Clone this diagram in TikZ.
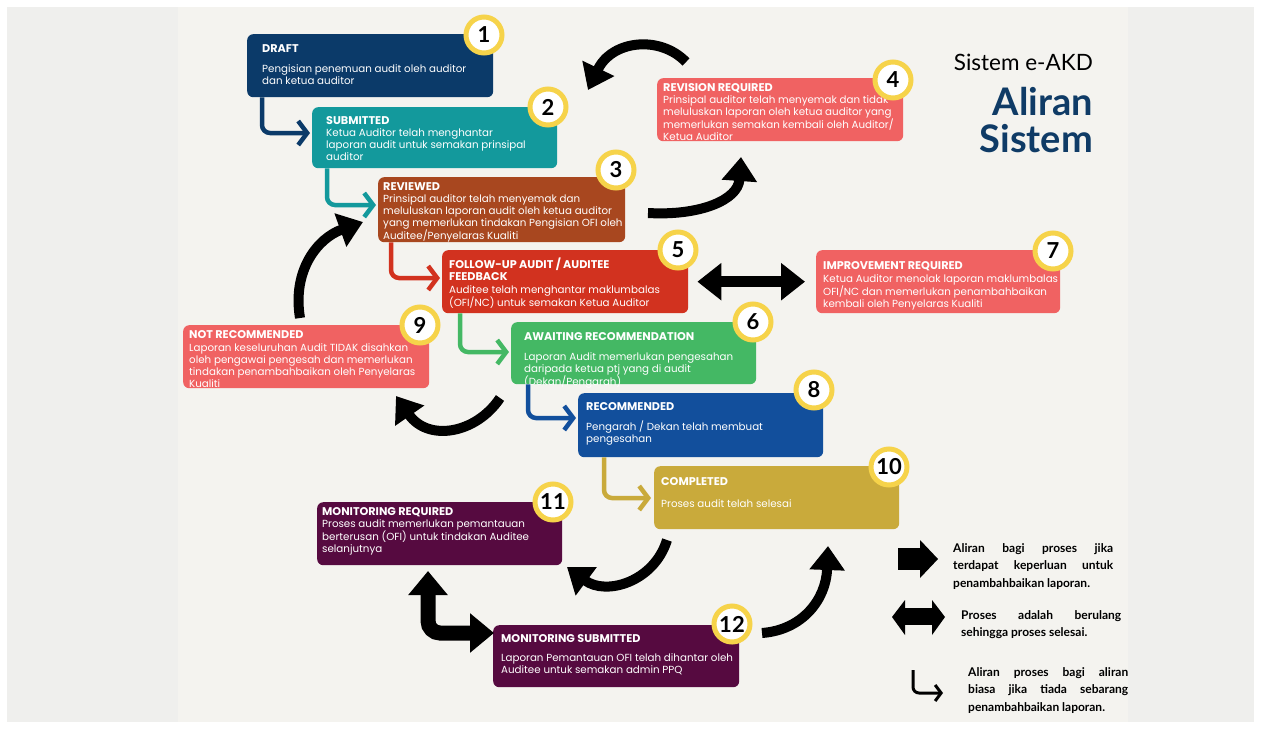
\documentclass[tikz,border=0pt]{standalone}
\usepackage{fontspec}
\setmainfont{Lato}
\newfontfamily\cardfont{Poppins}
\usetikzlibrary{arrows.meta,calc}
\definecolor{cnavy}{HTML}{0B3A69}
\definecolor{cteal}{HTML}{13999C}
\definecolor{cbrown}{HTML}{A8471F}
\definecolor{csalmon}{HTML}{F06262}
\definecolor{cred}{HTML}{D2321F}
\definecolor{cgreen}{HTML}{44B864}
\definecolor{cblue}{HTML}{124F9C}
\definecolor{cgold}{HTML}{C9AA3B}
\definecolor{cplum}{HTML}{560A40}
\definecolor{cyel}{HTML}{F6D34A}
\definecolor{ctitle}{HTML}{0F3B66}
\definecolor{bgout}{HTML}{EFEFED}
\definecolor{bgin}{HTML}{F4F3EF}
\newcommand\cardtxt[1]{\parbox[t]{260pt}{\raggedright\cardfont\fontsize{10.3}{12}\selectfont #1}}
\newcommand\ttl[1]{{\fontsize{11.2}{12}\selectfont\bfseries #1}}
\newcommand\legtxt[2]{\parbox[t]{#1}{\raggedright\fontsize{12}{17.5}\selectfont\bfseries #2}}
\begin{document}
\begin{tikzpicture}[x=1pt,y=-1pt,
  card/.style={rounded corners=6pt, inner sep=0pt, anchor=north west},
  ctext/.style={anchor=base west, inner sep=0pt, text=white},
  badge/.style={circle, draw=cyel, fill=white, line width=5pt, minimum size=36pt, inner sep=0pt, font=\fontsize{22}{22}\selectfont\bfseries},
  elbow/.style={line width=4.5pt, rounded corners=8pt, -{Straight Barb[length=9pt,width=24pt]}},
  bigarrow/.style={line width=10pt, -{Triangle[length=24pt,width=34pt]}},
  dblarrow/.style={line width=11pt, {Triangle[length=24pt,width=36pt]}-{Triangle[length=24pt,width=36pt]}},
  legtext/.style={anchor=base west, inner sep=0pt},
]
% background
\useasboundingbox (0,0) rectangle (1261,729);
\fill[white] (0,0) rectangle (1261,729);
\fill[bgout] (7,7) rectangle (1254,722);
\fill[bgin] (178,7) rectangle (1128,722);

% cards
\node[card, fill=cnavy, minimum width=246pt, minimum height=63pt] (b1) at (247,34) {};
\node[card, fill=cteal, minimum width=245pt, minimum height=61pt] (b2) at (312,107) {};
\node[card, fill=cbrown, minimum width=247pt, minimum height=65pt] (b3) at (378,177) {};
\node[card, fill=csalmon, minimum width=246pt, minimum height=63pt] (b4) at (657,78) {};
\node[card, fill=cred, minimum width=246pt, minimum height=63pt] (b5) at (442,250) {};
\node[card, fill=cgreen, minimum width=245pt, minimum height=62pt] (b6) at (511,322) {};
\node[card, fill=csalmon, minimum width=244pt, minimum height=63pt] (b7) at (816,250) {};
\node[card, fill=cblue, minimum width=245pt, minimum height=64pt] (b8) at (578,393) {};
\node[card, fill=csalmon, minimum width=246pt, minimum height=63pt] (b9) at (183,325) {};
\node[card, fill=cgold, minimum width=245pt, minimum height=63pt] (b10) at (654,466) {};
\node[card, fill=cplum, minimum width=245pt, minimum height=63pt] (b11) at (317,502) {};
\node[card, fill=cplum, minimum width=246pt, minimum height=62pt] (b12) at (493,625) {};

% card texts
\node[ctext] (t1) at (262,52) {\cardtxt{\ttl{DRAFT}\\[8pt]Pengisian penemuan audit oleh auditor\\dan ketua auditor}};
\node[ctext] (t2) at (326,124) {\cardtxt{\ttl{SUBMITTED}\\Ketua Auditor telah menghantar\\laporan audit untuk semakan prinsipal\\auditor}};
\node[ctext] (t3) at (383,190) {\cardtxt{\ttl{REVIEWED}\\[0.5pt]Prinsipal auditor telah menyemak dan\\meluluskan laporan audit oleh ketua auditor\\yang memerlukan tindakan Pengisian OFI oleh\\Auditee/Penyelaras Kualiti}};
\node[ctext] (t4) at (663,91) {\cardtxt{\ttl{REVISION REQUIRED}\\Prinsipal auditor telah menyemak dan tidak\\meluluskan laporan oleh ketua auditor yang\\memerlukan semakan kembali oleh Auditor/\\Ketua Auditor}};
\node[ctext] (t5) at (449,268) {\cardtxt{\ttl{FOLLOW-UP AUDIT / AUDITEE}\\\ttl{FEEDBACK}\\[1pt]Auditee telah menghantar maklumbalas\\(OFI/NC) untuk semakan Ketua Auditor}};
\node[ctext] (t6) at (524,340) {\cardtxt{\ttl{AWAITING RECOMMENDATION}\\[8pt]Laporan Audit memerlukan pengesahan\\daripada ketua ptj yang di audit\\(Dekan/Pengarah)}};
\node[ctext] (t7) at (823,269) {\cardtxt{\ttl{IMPROVEMENT REQUIRED}\\[1pt]Ketua Auditor menolak laporan maklumbalas\\OFI/NC dan memerlukan penambahbaikan\\kembali oleh Penyelaras Kualiti}};
\node[ctext] (t8) at (586,410) {\cardtxt{\ttl{RECOMMENDED}\\[8pt]Pengarah / Dekan telah membuat\\pengesahan}};
\node[ctext] (t9) at (189,338) {\cardtxt{\ttl{NOT RECOMMENDED}\\[1pt]Laporan keseluruhan Audit TIDAK disahkan\\oleh pengawai pengesah dan memerlukan\\tindakan penambahbaikan oleh Penyelaras\\Kualiti}};
\node[ctext] (t10) at (661,485) {\cardtxt{\ttl{COMPLETED}\\[10pt]Proses audit telah selesai}};
\node[ctext] (t11) at (322,515) {\cardtxt{\ttl{MONITORING REQUIRED}\\Proses audit memerlukan pemantauan\\berterusan (OFI) untuk tindakan Auditee\\selanjutnya}};
\node[ctext] (t12) at (501,642) {\cardtxt{\ttl{MONITORING SUBMITTED}\\[7pt]Laporan Pemantauan OFI telah dihantar oleh\\Auditee untuk semakan admin PPQ}};

% badges
\node[badge] (n1) at (484,35) {1};
\node[badge] (n2) at (548,107) {2};
\node[badge] (n3) at (616,170) {3};
\node[badge] (n4) at (893,80) {4};
\node[badge] (n5) at (678,250) {5};
\node[badge] (n6) at (753,322) {6};
\node[badge] (n7) at (1053,251) {7};
\node[badge] (n8) at (814,390) {8};
\node[badge] (n9) at (420,325) {9};
\node[badge] (n10) at (889,467) {10};
\node[badge] (n11) at (553,502) {11};
\node[badge] (n12) at (732,624) {12};

% normal flow elbows
\draw[elbow, cnavy] ($(b1.south west)+(15,0)$) |- ($(b2.north west)+(-2,26)$);
\draw[elbow, cteal] ($(b2.south west)+(15,0)$) |- ($(b3.north west)+(-2,28)$);
\draw[elbow, cred] ($(b3.south west)+(13,0)$) |- ($(b5.north west)+(-2,28)$);
\draw[elbow, cgreen] ($(b5.south west)+(18,0)$) |- ($(b6.north west)+(-2,30)$);
\draw[elbow, cblue] ($(b6.south west)+(17,0)$) |- ($(b8.north west)+(-2,25)$);
\draw[elbow, cgold] ($(b8.south west)+(26,0)$) |- ($(b10.north west)+(-3,32)$);

% improvement arrows
\coordinate (a4s) at (686,62);
\coordinate (a4e) at (588,90);
\draw[bigarrow] (a4s) .. controls (660,35) and (612,40) .. (a4e);
\coordinate (a3s) at (648,213);
\coordinate (a3e) at (741,157);
\draw[bigarrow] (a3s) .. controls (700,216) and (738,200) .. (a3e);
\coordinate (a9s) at (300,318);
\coordinate (a9e) at (363,222);
\draw[bigarrow] (a9s) .. controls (292,270) and (318,238) .. (a9e);
\coordinate (a6s) at (500,398);
\coordinate (a6e) at (396,396);
\draw[bigarrow] (a6s) .. controls (476,434) and (428,442) .. (a6e);
\coordinate (a10s) at (667,540);
\coordinate (a10e) at (567,567);
\draw[bigarrow] (a10s) .. controls (654,582) and (606,596) .. (a10e);
\coordinate (a12s) at (762,633);
\coordinate (a12e) at (828,546);
\draw[bigarrow] (a12s) .. controls (802,630) and (826,600) .. (a12e);

% repeating loops
\draw[dblarrow] ($(b5.east)+(9,0)$) -- ($(b7.west)+(-11,0)$);
\draw[line width=15pt, rounded corners=12pt, {Triangle[length=24pt,width=38pt]}-{Triangle[length=24pt,width=38pt]}] (428,571) |- (494,633);

% title
\node[anchor=base east, inner sep=0pt, font=\fontsize{22.5}{22.5}\selectfont] (sub) at (1093,70) {Sistem e-AKD};
\node[anchor=base east, inner sep=0pt, font=\fontsize{38}{38}\selectfont\bfseries, text=ctitle] (tl1) at (1093,115) {Aliran};
\node[anchor=base east, inner sep=0pt, font=\fontsize{38}{38}\selectfont\bfseries, text=ctitle] (tl2) at (1093,152) {Sistem};

% legend
\fill (898,548) rectangle (921,570);
\fill (920,540) -- (938,559) -- (920,578) -- cycle;
\fill (904,608) rectangle (933,625);
\fill (905,600) -- (892,617) -- (905,635) -- cycle;
\fill (932,600) -- (945,617) -- (932,635) -- cycle;
\coordinate (le1) at (913,670);
\coordinate (le2) at (943,693);
\draw[line width=3pt, rounded corners=6pt, -{Straight Barb[length=6pt,width=16pt]}] (le1) |- (le2);
\node[legtext] (l1) at (953,552) {\legtxt{160pt}{\makebox[160pt][s]{Aliran bagi proses jika}\\\makebox[160pt][s]{terdapat keperluan untuk}\\penambahbaikan laporan.}};
\node[legtext] (l2) at (961,619) {\legtxt{160pt}{\makebox[160pt][s]{Proses adalah berulang}\\sehingga proses selesai.}};
\node[legtext] (l3) at (968,676) {\legtxt{160pt}{\makebox[160pt][s]{Aliran proses bagi aliran}\\\makebox[160pt][s]{biasa jika tiada sebarang}\\penambahbaikan laporan.}};
\end{tikzpicture}
\end{document}
